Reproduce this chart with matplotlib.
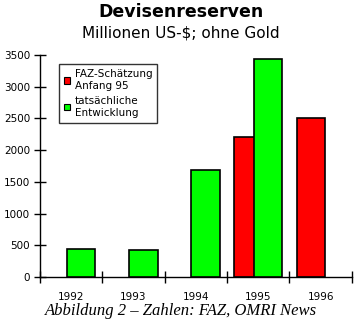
import numpy as np
import matplotlib.pyplot as plt
from matplotlib.patches import Patch

# Devisenreserven in Mio. US-$ (ohne Gold)
years = ["1992", "1993", "1994", "1995", "1996"]
faz_estimate = [None, None, None, 2200, 2500]      # FAZ-Schätzung Anfang 95
actual = [435, 420, 1690, 3430, None]               # tatsächliche Entwicklung

red = "#ff0000"
green = "#00ff00"

fig = plt.figure(figsize=(3.62, 3.22), dpi=100)
ax = fig.add_axes([0.1105, 0.1398, 0.8615, 0.6894])

x = np.arange(len(years))
width = 0.46
offset = 0.155

for xi, v in zip(x, faz_estimate):
    if v is not None:
        ax.bar(xi - offset, v, width, color=red, edgecolor="black",
               linewidth=1.2, zorder=2)
for xi, v in zip(x, actual):
    if v is not None:
        ax.bar(xi + offset, v, width, color=green, edgecolor="black",
               linewidth=1.2, zorder=3)

ax.set_xlim(-0.5, len(years) - 0.5)
ax.set_ylim(0, 3500)

# major ticks on category boundaries, labels at centres
ax.set_xticks(np.arange(-0.5, len(years), 1.0))
ax.set_xticklabels([])
ax.set_xticks(x, minor=True)
ax.set_xticklabels(years, minor=True, fontsize=7.5)
ax.tick_params(axis="x", which="minor", length=0, pad=11)
ax.tick_params(axis="x", which="major", direction="inout", length=8, width=1)
ax.set_yticks(np.arange(0, 3501, 500))
ax.tick_params(axis="y", direction="inout", length=8, width=1, labelsize=7.5, pad=3)

for side in ("top", "right"):
    ax.spines[side].set_visible(False)
for side in ("left", "bottom"):
    ax.spines[side].set_linewidth(1)

handles = [Patch(facecolor=red, edgecolor="black", linewidth=0.8),
           Patch(facecolor=green, edgecolor="black", linewidth=0.8)]
labels = ["FAZ-Schätzung\nAnfang 95", "tatsächliche\nEntwicklung"]
leg = fig.legend(handles, labels, loc="upper left",
                 bbox_to_anchor=(59 / 362, 1 - 64 / 322),
                 fontsize=7.5, frameon=True, fancybox=False,
                 handlelength=0.6, handleheight=0.6, handletextpad=0.4,
                 borderpad=0.5, labelspacing=0.5, borderaxespad=0)
leg.get_frame().set_edgecolor("black")
leg.get_frame().set_linewidth(1)

fig.text(0.5, 1 - 12 / 322, "Devisenreserven", ha="center", va="center",
         fontsize=12.5, fontweight="heavy")
fig.text(0.5, 1 - 33 / 322, "Millionen US-$; ohne Gold", ha="center",
         va="center", fontsize=11)
fig.text(0.5, 1 - 311 / 322, "Abbildung 2 – Zahlen: FAZ, OMRI News",
         ha="center", va="center", fontsize=12, style="italic",
         family="Liberation Serif")

fig.savefig("out.png", dpi=100)
